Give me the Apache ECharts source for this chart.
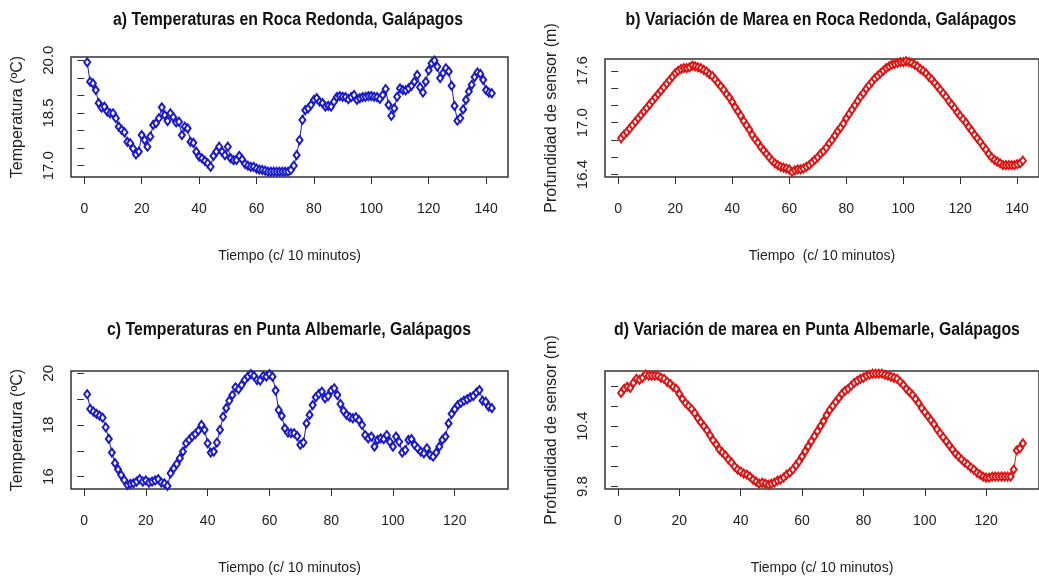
<!DOCTYPE html>
<html><head><meta charset="utf-8">
<script src="https://cdn.jsdelivr.net/npm/echarts@6/dist/echarts.min.js"></script>
<style>html,body{margin:0;padding:0;background:#fff}#c{width:1039px;height:579px}</style>
</head><body><div id="c"></div>
<script>
// a) Temperaturas en Roca Redonda (142 lecturas)
const tempRocaRedonda = [19.94,19.39,19.34,19.15,18.78,18.65,18.68,18.54,18.49,18.49,
 18.35,18.11,18.02,17.95,17.68,17.64,17.49,17.32,17.40,17.87,
 17.73,17.54,17.83,18.16,18.21,18.35,18.66,18.44,18.27,18.49,
 18.38,18.23,18.25,17.87,18.11,18.06,17.68,17.65,17.40,17.26,
 17.21,17.14,17.07,16.97,17.28,17.40,17.54,17.40,17.30,17.54,
 17.21,17.16,17.16,17.28,17.18,17.05,17.00,16.97,16.97,16.92,
 16.89,16.88,16.86,16.83,16.83,16.83,16.83,16.83,16.83,16.83,
 16.83,16.88,17.00,17.30,17.73,18.30,18.58,18.63,18.73,18.87,
 18.92,18.82,18.78,18.68,18.70,18.68,18.82,18.95,18.98,18.96,
 18.95,18.89,18.95,19.01,18.87,18.92,18.95,18.96,18.98,18.98,
 18.96,18.95,18.90,19.01,19.18,18.73,18.42,18.63,18.96,19.20,
 19.15,19.14,19.20,19.27,19.39,19.58,19.23,19.08,19.39,19.71,
 19.91,19.99,19.82,19.49,19.63,19.77,19.68,19.27,18.70,18.28,
 18.35,18.60,18.87,19.11,19.30,19.52,19.65,19.61,19.44,19.15,
 19.08,19.06];

// b) Variación de Marea en Roca Redonda (142 lecturas)
const mareaRocaRedonda = [16.82,16.86,16.89,16.93,16.97,17.01,17.05,17.09,17.13,17.17,
 17.21,17.25,17.29,17.33,17.37,17.41,17.45,17.49,17.53,17.57,
 17.60,17.62,17.63,17.63,17.64,17.66,17.65,17.64,17.63,17.61,
 17.59,17.56,17.54,17.50,17.46,17.42,17.38,17.33,17.29,17.24,
 17.18,17.13,17.08,17.02,16.97,16.92,16.86,16.81,16.77,16.72,
 16.68,16.64,16.60,16.56,16.53,16.51,16.49,16.48,16.47,16.46,
 16.43,16.45,16.46,16.46,16.47,16.49,16.51,16.54,16.57,16.60,
 16.64,16.67,16.71,16.76,16.80,16.85,16.90,16.94,16.99,17.05,
 17.10,17.15,17.20,17.25,17.30,17.34,17.39,17.43,17.47,17.51,
 17.54,17.57,17.60,17.63,17.65,17.67,17.68,17.69,17.70,17.70,
 17.71,17.70,17.69,17.67,17.65,17.62,17.60,17.57,17.53,17.50,
 17.46,17.42,17.38,17.34,17.30,17.25,17.21,17.17,17.12,17.08,
 17.04,17.00,16.95,16.91,16.86,16.82,16.78,16.73,16.69,16.64,
 16.60,16.57,16.55,16.53,16.51,16.51,16.51,16.51,16.51,16.52,
 16.53,16.56];

// c) Temperaturas en Punta Albemarle (132 lecturas)
const tempPuntaAlbemarle = [19.19,18.62,18.52,18.43,18.36,18.28,17.91,17.46,16.93,16.52,
 16.28,16.06,15.87,15.68,15.72,15.74,15.81,15.90,15.81,15.85,
 15.77,15.81,15.85,15.90,15.77,15.74,15.64,16.13,16.32,16.49,
 16.71,16.97,17.29,17.42,17.55,17.65,17.78,18.00,17.81,17.29,
 16.93,16.97,17.32,17.81,18.32,18.65,18.94,19.16,19.46,19.38,
 19.55,19.74,19.87,19.97,19.90,19.74,19.72,19.90,19.87,19.97,
 19.87,19.33,18.58,18.35,17.87,17.70,17.68,17.68,17.57,17.23,
 17.32,18.06,18.39,18.77,19.07,19.20,19.29,19.03,19.12,19.33,
 19.42,19.16,18.81,18.55,18.39,18.30,18.26,18.30,18.19,18.00,
 17.61,17.48,17.55,17.16,17.42,17.48,17.45,17.61,17.35,17.16,
 17.55,17.35,16.93,17.03,17.42,17.45,17.23,17.10,16.97,16.90,
 17.10,16.84,16.77,16.93,17.16,17.42,17.55,18.06,18.43,18.61,
 18.77,18.86,18.94,18.99,19.07,19.12,19.25,19.35,18.94,18.90,
 18.71,18.65];

// d) Variación de marea en Punta Albemarle (132 lecturas)
const mareaPuntaAlbemarle = [10.73,10.77,10.79,10.78,10.83,10.87,10.86,10.88,10.91,10.90,
 10.90,10.90,10.90,10.88,10.87,10.84,10.82,10.79,10.77,10.72,
 10.67,10.63,10.60,10.57,10.53,10.48,10.44,10.40,10.36,10.31,
 10.26,10.22,10.17,10.14,10.11,10.07,10.04,10.00,9.97,9.95,
 9.93,9.92,9.90,9.87,9.85,9.83,9.84,9.83,9.82,9.83,
 9.84,9.86,9.87,9.89,9.92,9.94,9.97,10.01,10.05,10.10,
 10.15,10.20,10.25,10.30,10.35,10.40,10.45,10.51,10.56,10.60,
 10.64,10.68,10.72,10.75,10.77,10.80,10.83,10.85,10.87,10.88,
 10.90,10.91,10.92,10.92,10.92,10.92,10.91,10.90,10.89,10.88,
 10.87,10.84,10.81,10.77,10.74,10.71,10.67,10.63,10.58,10.54,
 10.50,10.46,10.42,10.37,10.33,10.29,10.25,10.21,10.17,10.13,
 10.10,10.07,10.04,10.02,9.99,9.97,9.94,9.92,9.90,9.89,
 9.89,9.90,9.90,9.90,9.90,9.90,9.90,9.90,9.97,10.16,
 10.18,10.23];

const xTicks140 = [0,20,40,60,80,100,120,140];
const xTicks120 = [0,20,40,60,80,100,120];
const yTicksA = [17.0,17.5,18.0,18.5,19.0,19.5,20.0];
const yLabelsA = [17.0,18.5,20.0];
const yTicksB = [16.4,16.6,16.8,17.0,17.2,17.4,17.6];
const yLabelsB = [16.4,17.0,17.6];
const yTicksC = [16,17,18,19,20];
const yLabelsC = [16,18,20];
const yTicksD = [9.8,10.0,10.2,10.4,10.6,10.8];
const yLabelsD = [9.8,10.4];

const titles = ['a) Temperaturas en Roca Redonda, Galápagos',
  'b) Variación de Marea en Roca Redonda, Galápagos',
  'c) Temperaturas en Punta Albemarle, Galápagos',
  'd) Variación de marea en Punta Albemarle, Galápagos'];
const xNames = ['Tiempo (c/ 10 minutos)','Tiempo  (c/ 10 minutos)','Tiempo (c/ 10 minutos)','Tiempo (c/ 10 minutos)'];
const yNames = ['Temperatura (ºC)','Profundidad de sensor (m)','Temperatura (ºC)','Profundidad de sensor (m)'];

const REG = "'Liberation Sans',Arial,sans-serif";
const BLUE = '#1a1acc';
const RED = '#dd1414';

const panels = [
  {data: tempRocaRedonda, color: BLUE, grid:{left:71, top:57, width:437, height:120}, xr:[-4.64,147.64], yr:[16.68,20.09], xt:xTicks140, yt:yTicksA, yl:yLabelsA, dec:1, tx:288, ty:20},
  {data: mareaRocaRedonda, color: RED, grid:{left:605, top:59, width:436, height:118}, xr:[-4.64,147.64], yr:[16.372,17.736], xt:xTicks140, yt:yTicksB, yl:yLabelsB, dec:1, tx:821, ty:20},
  {data: tempPuntaAlbemarle, color: BLUE, grid:{left:71, top:371, width:437, height:118}, xr:[-4.24,137.24], yr:[15.52,20.09], xt:xTicks120, yt:yTicksC, yl:yLabelsC, dec:0, tx:289, ty:330},
  {data: mareaPuntaAlbemarle, color: RED, grid:{left:605, top:371, width:435, height:118}, xr:[-4.24,137.24], yr:[9.777,10.947], xt:xTicks120, yt:yTicksD, yl:yLabelsD, dec:1, tx:817, ty:330}
];

const option = {
  animation: false,
  backgroundColor: '#fff',
  graphic: panels.map((p,i)=>({
    type:'text', x:p.tx, y:p.ty, scaleX:0.88, silent:true,
    style:{text:titles[i], fontFamily:REG, fontWeight:'bold', fontSize:18, fill:'#111', align:'center', verticalAlign:'middle'}
  })),
  grid: panels.map(p=>Object.assign({show:true, borderColor:'#333', borderWidth:1.5, backgroundColor:'transparent'}, p.grid)),
  xAxis: panels.map((p,i)=>({
    type:'value', gridIndex:i, min:p.xr[0], max:p.xr[1],
    name: xNames[i], nameLocation:'middle', nameGap:72,
    nameTextStyle:{fontFamily:REG, fontSize:14, color:'#222'},
    axisLine:{show:false, onZero:false},
    axisTick:{show:true, inside:false, length:7, customValues:p.xt, lineStyle:{color:'#333', width:1}},
    axisLabel:{show:true, customValues:p.xt, margin:25, fontFamily:REG, fontSize:14, color:'#222'},
    splitLine:{show:false}
  })),
  yAxis: panels.map((p,i)=>({
    type:'value', gridIndex:i, min:p.yr[0], max:p.yr[1],
    name: yNames[i], nameLocation:'middle', nameGap:45, nameRotate:90,
    nameTextStyle:{fontFamily:REG, fontSize:16, color:'#222'},
    axisLine:{show:false},
    axisTick:{show:true, inside:false, length:7, customValues:p.yt, lineStyle:{color:'#333', width:1}},
    axisLabel:{show:true, customValues:p.yl, rotate:90, margin:15, fontFamily:REG, fontSize:15, color:'#222',
      formatter: v => Number(v).toFixed(p.dec)},
    splitLine:{show:false}
  })),
  series: panels.map((p,i)=>({
    type:'line', xAxisIndex:i, yAxisIndex:i,
    data: p.data.map((v,k)=>[k+1, v]),
    symbol:'emptyDiamond', symbolSize:[6,8], showAllSymbol:true,
    lineStyle:{color:p.color, width:1},
    itemStyle:{color:p.color, borderColor:p.color, borderWidth:1},
    silent:true
  }))
};
const chart = echarts.init(document.getElementById('c'), null, {renderer:'canvas'});
chart.setOption(option);
</script>
</body></html>
